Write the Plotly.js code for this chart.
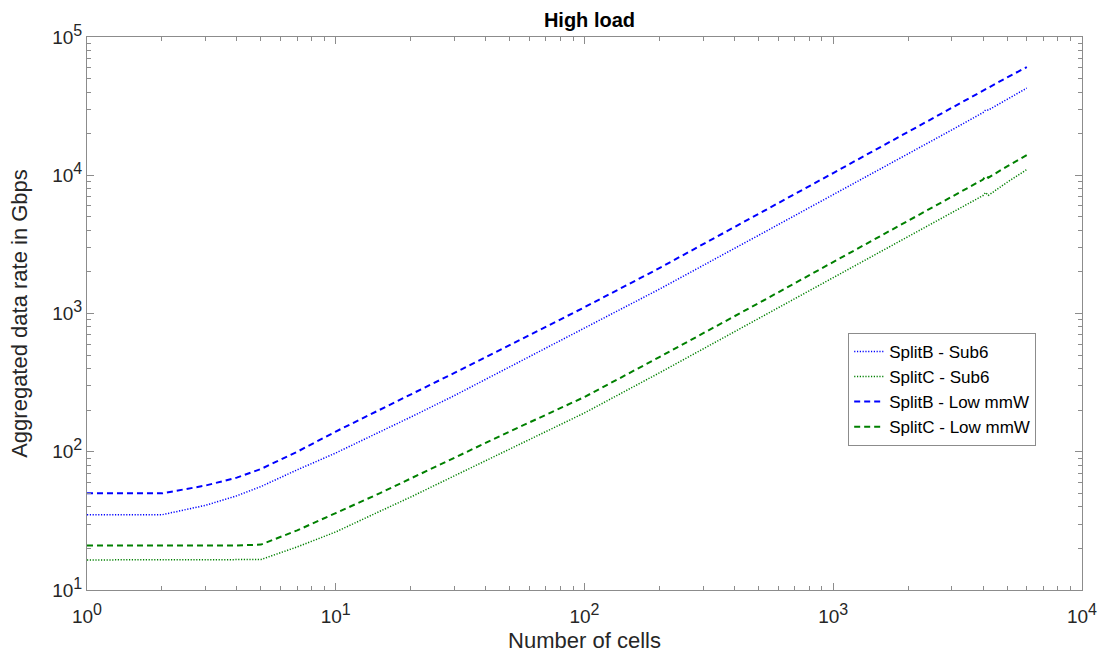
<!DOCTYPE html>
<html>
<head>
<meta charset="utf-8">
<script src="https://cdn.plot.ly/plotly-3.0.1.min.js"></script>
<style>html,body{margin:0;padding:0;background:#fff;}#chart{width:1102px;height:659px;}</style>
</head>
<body>
<div id="chart"></div>
<script>
// Number of cells (x)
const cells = [1, 2, 3, 4, 5, 7, 10, 15, 20, 30, 50, 100, 200, 500, 1000, 2000, 3000, 4000, 4096, 4200, 5000, 6000];
// Aggregated data rate in Gbps
const splitBSub6 = [35, 35, 41, 48, 56, 74, 98, 138, 178, 255, 410, 780, 1500, 3670, 7200, 14300, 21300, 28400, 29700, 29600, 35400, 42700];
const splitCSub6 = [16.5, 16.5, 16.5, 16.5, 16.6, 20.5, 26.3, 37, 47, 67, 104, 191, 372, 918, 1807, 3590, 5360, 7130, 7500, 7150, 8890, 11000];
const splitBLowmmW = [50, 50, 57, 65, 75, 100, 140, 200, 258, 372, 590, 1110, 2130, 5220, 10380, 20600, 30800, 40900, 42400, 43200, 51000, 60600];
const splitCLowmmW = [21, 21, 21, 21, 21.3, 27, 36, 50, 64, 91, 140, 249, 484, 1186, 2360, 4690, 7000, 9310, 9900, 9600, 11600, 14000];

const seriesNames = ['SplitB - Sub6', 'SplitC - Sub6', 'SplitB - Low mmW', 'SplitC - Low mmW'];

const xTickVals = [1, 10, 100, 1000, 10000];
const xExps = ['0', '1', '2', '3', '4'];
const yTickVals = [10, 100, 1000, 10000, 100000];
const yExps = ['1', '2', '3', '4', '5'];

function powLabel(e) {
  return '10<sup><span style="font-size:16px">' + e + '</span></sup>';
}

function minorVals(startExp, endExp) {
  const v = [];
  for (let e = startExp; e < endExp; e++) {
    for (let m = 2; m <= 9; m++) v.push(m * Math.pow(10, e));
  }
  return v;
}

const BLUE = '#0000ff', GREEN = '#008000';
const dotted = '1.2px,1.6px';
const dashed = '6px,4px';
const FONT = '"Liberation Sans", Arial, sans-serif';

const traces = [
  {x: cells, y: splitBSub6, name: seriesNames[0], mode: 'lines', line: {color: BLUE, width: 1.5, dash: dotted}},
  {x: cells, y: splitCSub6, name: seriesNames[1], mode: 'lines', line: {color: GREEN, width: 1.5, dash: dotted}},
  {x: cells, y: splitBLowmmW, name: seriesNames[2], mode: 'lines', line: {color: BLUE, width: 2, dash: dashed}},
  {x: cells, y: splitCLowmmW, name: seriesNames[3], mode: 'lines', line: {color: GREEN, width: 2, dash: dashed}}
];

const axisCommon = {
  type: 'log',
  tickmode: 'array',
  showline: true,
  linecolor: '#8c8c8c',
  linewidth: 1,
  mirror: 'ticks',
  ticks: 'inside',
  ticklen: 7,
  tickwidth: 1,
  tickcolor: '#8c8c8c',
  showgrid: false,
  zeroline: false,
  tickfont: {family: FONT, size: 19, color: '#262626'}
};

const layout = {
  width: 1102,
  height: 659,
  paper_bgcolor: '#ffffff',
  plot_bgcolor: '#ffffff',
  margin: {l: 87, r: 20, t: 37, b: 69},
  font: {family: FONT, color: '#262626'},
  title: {
    text: '<b>High load</b>',
    font: {size: 20, color: '#000000', family: FONT},
    x: 0.505, xref: 'paper', xanchor: 'center',
    y: 0.969, yref: 'container', yanchor: 'middle'
  },
  xaxis: Object.assign({}, axisCommon, {
    range: [0, 4],
    tickvals: xTickVals,
    ticktext: xExps.map(powLabel),
    ticklabelstandoff: 9,
    minor: {tickmode: 'array', tickvals: minorVals(0, 4), ticks: 'inside', ticklen: 4, tickcolor: '#8c8c8c', showgrid: false},
    title: {text: 'Number of cells', font: {size: 22, color: '#262626', family: FONT}, standoff: 6}
  }),
  yaxis: Object.assign({}, axisCommon, {
    range: [1, 5],
    tickvals: yTickVals,
    ticktext: yExps.map(powLabel),
    minor: {tickmode: 'array', tickvals: minorVals(1, 5), ticks: 'inside', ticklen: 4, tickcolor: '#8c8c8c', showgrid: false},
    title: {text: 'Aggregated data rate in Gbps', font: {size: 22, color: '#262626', family: FONT}, standoff: 18}
  }),
  showlegend: true,
  legend: {
    x: 0.765, xref: 'paper', xanchor: 'left',
    y: 0.465, yref: 'paper', yanchor: 'top',
    bgcolor: '#ffffff',
    bordercolor: '#8c8c8c',
    borderwidth: 1,
    font: {size: 17, color: '#000000', family: FONT},
    tracegroupgap: 0
  }
};

Plotly.newPlot('chart', traces, layout, {displayModeBar: false, staticPlot: true});
</script>
</body>
</html>
